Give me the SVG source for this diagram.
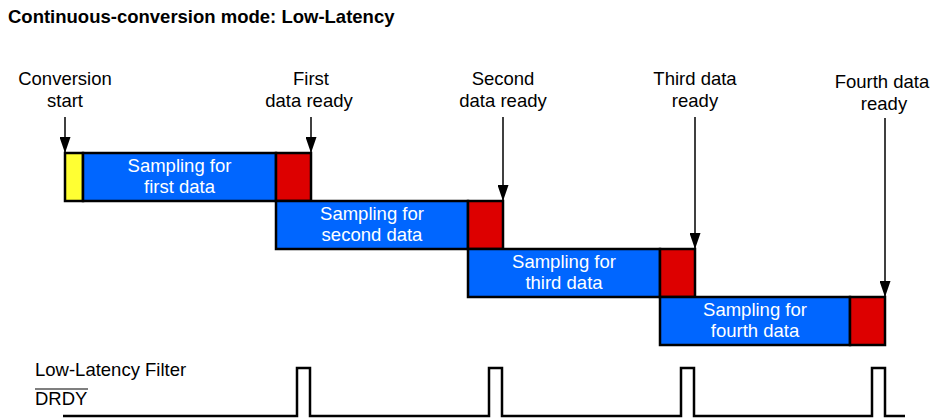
<svg xmlns="http://www.w3.org/2000/svg" width="933" height="419" viewBox="0 0 933 419">
<style>
text{font-family:"Liberation Sans",Arial,sans-serif;font-size:18.5px;fill:#000}
.t{font-weight:bold}
.c{text-anchor:middle}
.w{fill:#fff}
.box{stroke:#000;stroke-width:2.5}
.y{fill:#ffff33}
.b{fill:#0066ff}
.r{fill:#dd0000}
.arr{stroke:#000;stroke-width:1.5;fill:none}
.wave{stroke:#000;stroke-width:2.5;fill:none}
</style>
<defs>
<marker id="ah" viewBox="0 0 16 11" markerWidth="16" markerHeight="11" refX="16" refY="5.5" orient="auto" markerUnits="userSpaceOnUse">
<path d="M0,0 L16,5.5 L0,11 z" fill="#000"/>
</marker>
</defs>
<text class="t" x="8" y="22.5">Continuous-conversion mode: Low-Latency</text>

<g id="label-start"><text class="c" x="65" y="85">Conversion</text><text class="c" x="65" y="107">start</text></g>
<g id="label-first"><text class="c" x="311" y="85">First</text><text class="c" x="309" y="107">data ready</text></g>
<g id="label-second"><text class="c" x="503" y="85">Second</text><text class="c" x="503" y="107">data ready</text></g>
<g id="label-third"><text class="c" x="695" y="85">Third data</text><text class="c" x="695" y="107">ready</text></g>
<g id="label-fourth"><text class="c" x="882" y="88">Fourth data</text><text class="c" x="884" y="110">ready</text></g>

<g id="row1">
<rect class="box y" x="65" y="153" width="18" height="48"/>
<rect class="box b" x="83" y="153" width="193" height="48"/>
<rect class="box r" x="276" y="153" width="35" height="48"/>
<text class="c w" x="179.5" y="172">Sampling for</text>
<text class="c w" x="179.5" y="193">first data</text>
</g>
<g id="row2">
<rect class="box b" x="276" y="201" width="192" height="48"/>
<rect class="box r" x="468" y="201" width="35" height="48"/>
<text class="c w" x="372" y="220">Sampling for</text>
<text class="c w" x="372" y="241">second data</text>
</g>
<g id="row3">
<rect class="box b" x="468" y="249" width="192" height="48"/>
<rect class="box r" x="660" y="249" width="35" height="48"/>
<text class="c w" x="564" y="268">Sampling for</text>
<text class="c w" x="564" y="289">third data</text>
</g>
<g id="row4">
<rect class="box b" x="660" y="297" width="190" height="48"/>
<rect class="box r" x="850" y="297" width="35" height="48"/>
<text class="c w" x="755" y="316">Sampling for</text>
<text class="c w" x="755" y="337">fourth data</text>
</g>

<g id="connectors">
<line class="arr" x1="65" y1="117" x2="65" y2="153" marker-end="url(#ah)"/>
<line class="arr" x1="311" y1="117" x2="311" y2="153" marker-end="url(#ah)"/>
<line class="arr" x1="503" y1="117" x2="503" y2="201" marker-end="url(#ah)"/>
<line class="arr" x1="695" y1="117" x2="695" y2="249" marker-end="url(#ah)"/>
<line class="arr" x1="885" y1="118" x2="885" y2="297" marker-end="url(#ah)"/>
</g>

<g id="drdy">
<text x="35" y="376">Low-Latency Filter</text>
<text x="35" y="405">DRDY</text>
<line x1="35" y1="389" x2="88" y2="389" stroke="#000" stroke-width="1.2"/>
<path class="wave" d="M63,416 H297 V368 H310 V416 H489 V368 H502 V416 H681 V368 H694 V416 H872 V368 H885 V416 H905"/>
</g>
</svg>
